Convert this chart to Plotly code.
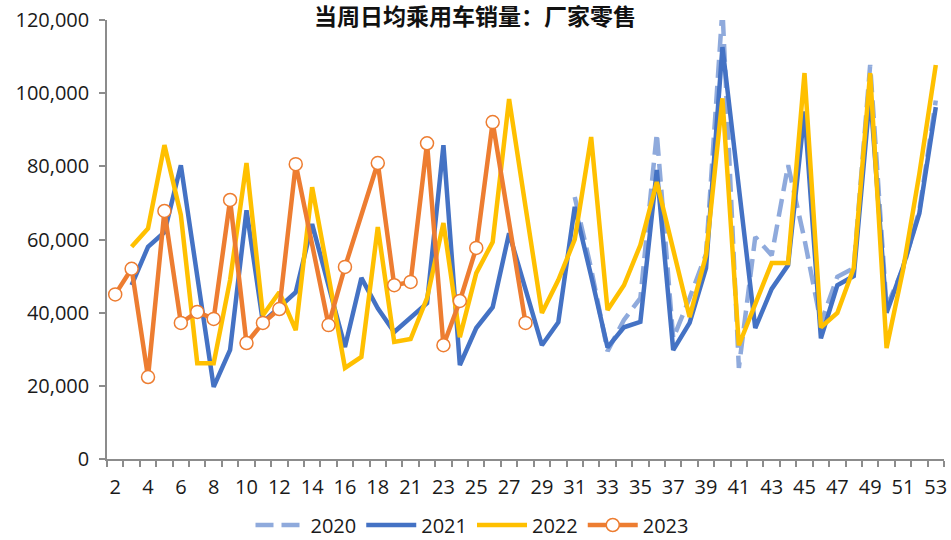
import plotly.graph_objects as go

weeks = [str(w) for w in list(range(2, 19)) + list(range(20, 54))]

s2020 = [None] * 28 + [71600, 52000, 29500, 38000, 44000, 89000, 33000, 44000, 56000,
                       123000, 24900, 60700, 55700, 80300, 60000, 37200, 49800, 52200,
                       107700, 41500, 52000, 68000, 98000]

s2021 = [None, 47500, 58000, 62000, 80300, 50000, 19700, 29800, 68000, 37400,
         41500, 45600, 64200, 47000, 30600, 49500, 41200, 34700, 38800, 42600,
         85800, 25700, 35800, 41500, 61700, 46000, 31100, 37400, 68900, 50000,
         30500, 36000, 37500, 79000, 29800, 37200, 52200, 112600, 74000, 35800,
         46500, 53000, 95000, 33000, 47500, 50000, 100000, 40000, 52500, 67200,
         96200]

s2022 = [None, 58000, 63000, 85800, 66700, 26200, 26200, 48900, 80900, 39300,
         45600, 35200, 74300, 50000, 24900, 27900, 63400, 32000, 32800, 44000,
         64500, 33300, 50800, 59300, 98400, 69000, 39900, 48900, 60000, 88000,
         40700, 47500, 58500, 75700, 57000, 38800, 55700, 98600, 31100, 42000,
         53600, 53600, 105500, 36000, 39900, 52200, 105500, 30300, 51600, 78000,
         107700]

s2023 = [45000, 52000, 22400, 67800, 37200, 40200, 38300, 70800, 31700, 37200,
         41000, 80600, None, 36600, 52500, None, 80900, 47500, 48400, 86300,
         31100, 43200, 57700, 92100, None, 37200] + [None] * 25

series_names = ["2020", "2021", "2022", "2023"]
tick_text = [w if i % 2 == 0 else "" for i, w in enumerate(weeks)]
title_text = "当周日均乘用车销量：厂家零售"

FONT = "Open Sans, Liberation Sans, sans-serif"
LW = 4.5
W, H = 951, 540

fig = go.Figure()
fig.add_trace(go.Scatter(x=weeks, y=s2020, name=series_names[0], mode="lines",
                         line=dict(color="#8FAADC", width=LW, dash="18px,8px"),
                         connectgaps=False))
fig.add_trace(go.Scatter(x=weeks, y=s2021, name=series_names[1], mode="lines",
                         line=dict(color="#4472C4", width=LW)))
fig.add_trace(go.Scatter(x=weeks, y=s2022, name=series_names[2], mode="lines",
                         line=dict(color="#FFC000", width=LW)))
fig.add_trace(go.Scatter(x=weeks, y=s2023, name=series_names[3], mode="lines+markers",
                         line=dict(color="#ED7D31", width=LW),
                         marker=dict(symbol="circle", size=13, color="white",
                                     line=dict(color="#ED7D31", width=1.5)),
                         connectgaps=True))

fig.update_layout(
    width=W, height=H,
    margin=dict(l=107, r=7, t=20, b=81, autoexpand=False),
    paper_bgcolor="white", plot_bgcolor="white",
    font=dict(family=FONT, size=20, color="#1a1a1a"),
    title=dict(text=title_text, x=475 / W, xref="container", xanchor="center",
               y=1 - 17 / H, yref="container", yanchor="middle",
               font=dict(family="Noto Sans CJK SC", size=23, color="#111111", weight="bold")),
    showlegend=True,
    legend=dict(orientation="h", x=472 / W, xref="container", xanchor="center",
                y=1 - 525 / H, yref="container", yanchor="middle",
                font=dict(family=FONT, size=20, color="#1a1a1a"),
                itemwidth=50, tracegroupgap=0),
    xaxis=dict(type="category", categoryorder="array", categoryarray=weeks,
               tickmode="array", tickvals=weeks, ticktext=tick_text, tickangle=0,
               tickson="boundaries", ticks="outside", ticklen=6, tickwidth=1.5,
               tickcolor="#8c8c8c", showline=True, linecolor="#8c8c8c", linewidth=1.5,
               showgrid=False, zeroline=False, range=[-0.5, 50.5], automargin=False,
               ticklabeloverflow="allow", ticklabelstandoff=9,
               tickfont=dict(family=FONT, size=20, color="#1a1a1a")),
    yaxis=dict(range=[0, 120000], dtick=20000, tick0=0, tickformat=",",
               ticks="outside", ticklen=6, tickwidth=1.5, tickcolor="#8c8c8c",
               showline=True, linecolor="#8c8c8c", linewidth=1.5,
               showgrid=False, zeroline=False, automargin=False,
               ticklabeloverflow="allow", ticklabelstandoff=6,
               tickfont=dict(family=FONT, size=20, color="#1a1a1a")),
)

fig.write_html(
    "out.html",
    config={"displayModeBar": False},
    post_script="document.body.style.margin='0';document.body.style.overflow='hidden';",
)
